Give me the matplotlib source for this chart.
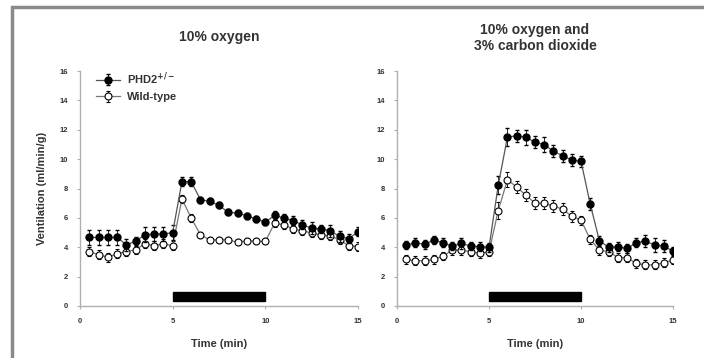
import matplotlib
matplotlib.use('Agg')
import matplotlib.pyplot as plt
from matplotlib.patches import Rectangle
import numpy as np

# time points (min)
time = np.arange(0.5, 15.01, 0.5)

# 10% oxygen
phd2_o2 = [4.67, 4.67, 4.67, 4.67, 4.17, 4.4, 4.85, 4.9, 4.9, 5.0,
           8.47, 8.47, 7.24, 7.13, 6.86, 6.38, 6.33, 6.15, 5.92, 5.72,
           6.17, 5.99, 5.8, 5.53, 5.3, 5.24, 5.13, 4.74, 4.58, 5.06]
phd2_o2_err = [0.5, 0.5, 0.5, 0.5, 0.4, 0.3, 0.5, 0.5, 0.5, 0.5,
               0.3, 0.3, 0.2, 0.2, 0.2, 0.2, 0.2, 0.2, 0.2, 0.2,
               0.3, 0.3, 0.3, 0.3, 0.4, 0.3, 0.4, 0.4, 0.3, 0.3]
wt_o2 = [3.71, 3.49, 3.33, 3.55, 3.71, 3.83, 4.24, 4.1, 4.24, 4.1,
         7.29, 5.99, 4.85, 4.51, 4.51, 4.51, 4.33, 4.46, 4.4, 4.4,
         5.65, 5.53, 5.24, 5.13, 4.97, 4.85, 4.78, 4.51, 4.1, 4.05]
wt_o2_err = [0.3, 0.3, 0.3, 0.3, 0.3, 0.3, 0.3, 0.3, 0.3, 0.3,
             0.3, 0.3, 0.2, 0.2, 0.2, 0.2, 0.2, 0.2, 0.2, 0.2,
             0.3, 0.3, 0.3, 0.3, 0.3, 0.3, 0.3, 0.3, 0.3, 0.3]

# 10% oxygen and 3% carbon dioxide
phd2_co2 = [4.15, 4.3, 4.2, 4.5, 4.3, 4.08, 4.26, 4.08, 4.04, 4.0,
            8.23, 11.5, 11.6, 11.5, 11.15, 11.0, 10.54, 10.24, 9.94, 9.85,
            6.94, 4.44, 4.0, 4.04, 3.92, 4.31, 4.42, 4.15, 4.08, 3.74]
phd2_co2_err = [0.3, 0.3, 0.3, 0.3, 0.3, 0.3, 0.4, 0.3, 0.3, 0.3,
                0.6, 0.6, 0.4, 0.5, 0.4, 0.5, 0.4, 0.4, 0.4, 0.4,
                0.4, 0.3, 0.3, 0.3, 0.3, 0.3, 0.4, 0.5, 0.4, 0.3]
wt_co2 = [3.17, 3.08, 3.08, 3.17, 3.4, 3.8, 3.8, 3.7, 3.58, 3.7,
          6.5, 8.6, 8.1, 7.55, 7.0, 7.0, 6.8, 6.6, 6.1, 5.85,
          4.53, 3.8, 3.7, 3.3, 3.3, 2.9, 2.8, 2.8, 2.95, 3.13]
wt_co2_err = [0.3, 0.3, 0.3, 0.3, 0.3, 0.3, 0.3, 0.3, 0.3, 0.3,
              0.6, 0.5, 0.4, 0.4, 0.4, 0.4, 0.4, 0.4, 0.4, 0.3,
              0.3, 0.3, 0.3, 0.3, 0.3, 0.3, 0.3, 0.3, 0.3, 0.3]

titles = ['10% oxygen', '10% oxygen and\n3% carbon dioxide']
bar_start, bar_end = 5, 10

plt.rcParams['font.family'] = ['Liberation Sans', 'DejaVu Sans']
plt.rcParams['font.weight'] = 'bold'

fig = plt.figure(figsize=(7.04, 3.58), dpi=100)
ax1 = fig.add_axes([0.1136, 0.1453, 0.395, 0.656])
ax2 = fig.add_axes([0.564, 0.1453, 0.392, 0.656])

# screenshot frame
fig.add_artist(Rectangle((0.017, -0.1), 1.2, 1.08, transform=fig.transFigure,
                         fill=False, edgecolor='#8a8a8a', linewidth=2.5))

panels = [(ax1, phd2_o2, phd2_o2_err, wt_o2, wt_o2_err),
          (ax2, phd2_co2, phd2_co2_err, wt_co2, wt_co2_err)]

for i, (ax, ph, phe, wt, wte) in enumerate(panels):
    ax.errorbar(time, wt, yerr=wte, color='#777777', lw=0.9, marker='o',
                ms=5, mfc='white', mec='black', mew=0.8, ecolor='black',
                elinewidth=0.6, capsize=1.5, zorder=3, label='Wild-type')
    ax.errorbar(time, ph, yerr=phe, color='#555555', lw=0.9, marker='o',
                ms=5, mfc='black', mec='black', ecolor='black',
                elinewidth=0.6, capsize=1.5, zorder=4, label='PHD2$^{+/-}$')
    ax.add_patch(Rectangle((bar_start, 0.35), bar_end - bar_start, 0.6,
                           facecolor='black', edgecolor='black', zorder=5))
    ax.set_xlim(0, 15)
    ax.set_ylim(0, 16)
    ax.set_xticks([0, 5, 10, 15])
    ax.set_yticks(range(0, 17, 2))
    for s in ['top', 'right']:
        ax.spines[s].set_visible(False)
    for s in ['left', 'bottom']:
        ax.spines[s].set_color('#b0b0b0')
        ax.spines[s].set_linewidth(1.0)
    ax.tick_params(colors='#b0b0b0', labelcolor='#333333', labelsize=5.5,
                   length=2.5, width=0.8, pad=6)
    for lab in ax.get_xticklabels() + ax.get_yticklabels():
        lab.set_fontweight('bold')
    ax.set_xlabel('Time (min)', fontsize=8, fontweight='bold',
                  color='#333333', labelpad=10)
    ax.set_title(titles[i], fontsize=10, fontweight='bold', color='#333333',
                 pad=22 if i == 0 else 15, linespacing=1.2)

ax1.set_ylabel('Ventilation (ml/min/g)', fontsize=8, fontweight='bold',
               color='#333333', labelpad=9)

h, l = ax1.get_legend_handles_labels()
ax1.legend(h[::-1], l[::-1], loc='upper left', bbox_to_anchor=(0.02, 1.045),
           frameon=False, fontsize=8, handlelength=2.2, handletextpad=0.6,
           labelspacing=0.45, labelcolor='#333333')

fig.savefig('out.png', dpi=100)
